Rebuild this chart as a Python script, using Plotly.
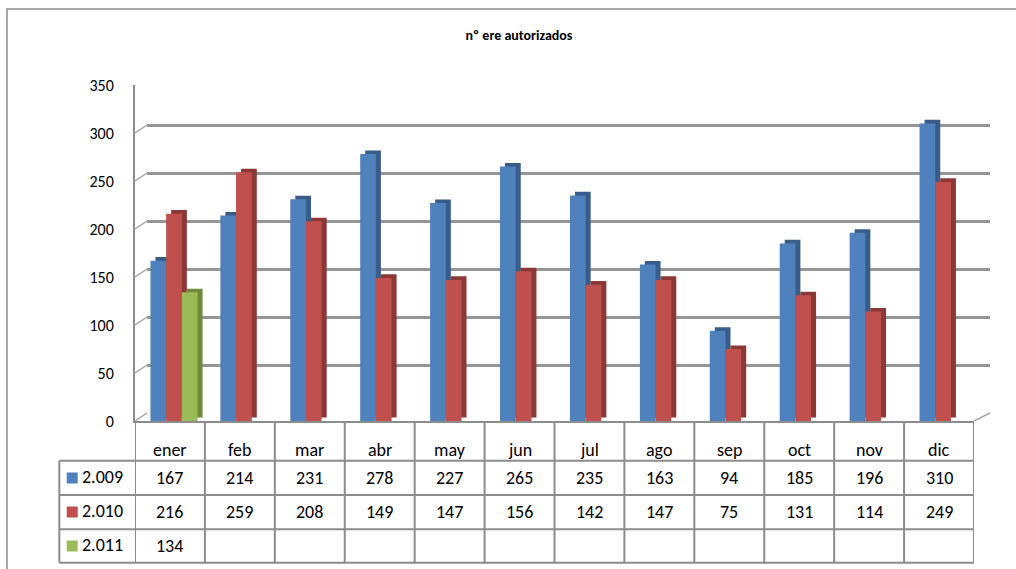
import plotly.graph_objects as go

# ---------------- data ----------------
months = ["ener", "feb", "mar", "abr", "may", "jun", "jul", "ago", "sep", "oct", "nov", "dic"]
series_names = ["2.009", "2.010", "2.011"]
v2009 = [167, 214, 231, 278, 227, 265, 235, 163, 94, 185, 196, 310]
v2010 = [216, 259, 208, 149, 147, 156, 142, 147, 75, 131, 114, 249]
v2011 = [134, None, None, None, None, None, None, None, None, None, None, None]
y_ticks = [0, 50, 100, 150, 200, 250, 300, 350]
title_text = "nº ere autorizados"

series_values = [v2009, v2010, v2011]
front_colors = ["#4F81BD", "#C0504D", "#9BBB59"]
side_colors = ["#385D8A", "#8C3836", "#6F8A3A"]

FONT = "Carlito, Calibri, Lato, sans-serif"
W, H = 1016, 569
L, R, T, B = 135, 26, 77, 148
PW, PH = W - L - R, H - T - B          # 855 x 344
FRONT_W = 839                           # front plot width (px)
FRONT_H = 336                           # front plot height (px)
DXL = 12                                # back wall left shift (px)
DY = PH - FRONT_H                       # back wall up shift (px)
px_per_unit = FRONT_H / 350.0
col_px = FRONT_W / 12.0

def py(Y):      # pixel y -> paper y
    return (H - B - Y) / PH

def pxx(X):     # pixel x -> paper x
    return (X - L) / PW

fig = go.Figure()

# invisible trace so the back-wall subplot exists
fig.add_trace(go.Scatter(x=[None], y=[None], xaxis="x", yaxis="y",
                         showlegend=False, hoverinfo="skip"))

bar_w = 15.7 / col_px
offsets = [-19.5 / col_px + i * bar_w for i in range(3)]
side_dx = 5.0 / col_px
side_dy = 3.6 / px_per_unit

# side / top faces (drawn first)
for i, vals in enumerate(series_values):
    fig.add_trace(go.Bar(
        x=months, y=vals, base=side_dy, offset=offsets[i] + side_dx, width=bar_w,
        marker=dict(color=side_colors[i], line=dict(width=0)),
        xaxis="x2", yaxis="y2", showlegend=False, hoverinfo="skip"))
# front faces
for i, vals in enumerate(series_values):
    fig.add_trace(go.Bar(
        x=months, y=vals, offset=offsets[i], width=bar_w, name=series_names[i],
        marker=dict(color=front_colors[i], line=dict(width=0)),
        xaxis="x2", yaxis="y2", showlegend=False))

grid_col = "#969696"
line_col = "#8c8c8c"

shapes = []
annotations = []

# left-wall diagonal ticks
for v in y_ticks:
    shapes.append(dict(type="line", xref="paper", yref="y2",
                       x0=0, y0=v, x1=DXL / PW, y1=v + DY / px_per_unit,
                       line=dict(color="#a6a6a6", width=1.5)))
# right floor diagonal
shapes.append(dict(type="line", xref="paper", yref="y2",
                   x0=FRONT_W / PW, y0=0, x1=1, y1=DY / px_per_unit,
                   line=dict(color="#a6a6a6", width=1.5)))

# ---------------- data table ----------------
row_lines = [460.7, 495.0, 529.3, 562.7]
legend_left = 59.3
for Y in row_lines:
    shapes.append(dict(type="line", xref="paper", yref="paper",
                       x0=pxx(legend_left), x1=FRONT_W / PW, y0=py(Y), y1=py(Y),
                       line=dict(color=line_col, width=2)))
for k in range(len(months) + 1):
    shapes.append(dict(type="line", xref="x2", yref="paper",
                       x0=k - 0.5, x1=k - 0.5, y0=py(421), y1=py(row_lines[-1]),
                       line=dict(color=line_col, width=2)))
shapes.append(dict(type="line", xref="paper", yref="paper",
                   x0=pxx(legend_left), x1=pxx(legend_left),
                   y0=py(row_lines[0]), y1=py(row_lines[-1]),
                   line=dict(color=line_col, width=2)))

# outer chart border
shapes.append(dict(type="rect", xref="paper", yref="paper",
                   x0=pxx(7), x1=pxx(W + 20), y0=py(9), y1=py(H + 20),
                   line=dict(color="#8c8c8c", width=1.5), fillcolor="rgba(0,0,0,0)"))

tfont = dict(family=FONT, size=18, color="#000000")
for k, m in enumerate(months):
    annotations.append(dict(xref="x2", yref="paper", x=k, y=py(450), text=m,
                            showarrow=False, font=tfont, xanchor="center", yanchor="middle"))
row_centers = [478, 512, 546]
for i, vals in enumerate(series_values):
    Yc = row_centers[i]
    for k, v in enumerate(vals):
        if v is not None:
            annotations.append(dict(xref="x2", yref="paper", x=k, y=py(Yc), text=str(v),
                                    showarrow=False, font=tfont,
                                    xanchor="center", yanchor="middle"))
    # legend key
    shapes.append(dict(type="rect", xref="paper", yref="paper",
                       x0=pxx(66.7), x1=pxx(77.7), y0=py(Yc - 5.5), y1=py(Yc + 5.5),
                       line=dict(width=0), fillcolor=front_colors[i]))
    annotations.append(dict(xref="paper", yref="paper", x=pxx(79.5), y=py(Yc - 1),
                            text=series_names[i], showarrow=False, font=tfont,
                            xanchor="left", yanchor="middle"))

fig.update_layout(
    width=W, height=H,
    margin=dict(l=L, r=R, t=T, b=B, pad=0),
    paper_bgcolor="white", plot_bgcolor="rgba(0,0,0,0)",
    barmode="overlay",
    showlegend=False,
    title=dict(text="<b>" + title_text + "</b>", xref="container", yref="container",
               x=519 / W, y=1 - 35 / H, xanchor="center", yanchor="middle",
               font=dict(family=FONT, size=14, color="#000000")),
    # back wall
    xaxis=dict(domain=[DXL / PW, 1], range=[-0.5, 11.5], anchor="y",
               visible=False, showgrid=False, zeroline=False),
    yaxis=dict(domain=[DY / PH, 1], range=[0, 350], anchor="x",
               tickvals=y_ticks, showticklabels=False, ticks="",
               showgrid=True, gridcolor=grid_col, gridwidth=3,
               zeroline=False, showline=False),
    # front (bars)
    xaxis2=dict(domain=[0, FRONT_W / PW], range=[-0.5, 11.5], anchor="y2",
                type="category", categoryorder="array", categoryarray=months,
                showticklabels=False, ticks="", showgrid=False, zeroline=False,
                showline=True, linecolor=line_col, linewidth=2),
    yaxis2=dict(domain=[0, FRONT_H / PH], range=[0, 350], anchor="x2",
                tickvals=y_ticks, ticks="", ticklabelstandoff=16,
                tickfont=dict(family=FONT, size=16, color="#000000"),
                showgrid=False, zeroline=False,
                showline=True, linecolor=line_col, linewidth=2),
    shapes=shapes,
    annotations=annotations,
)

fig.write_html("out.html",
               config={"displayModeBar": False},
               post_script="document.body.style.margin='0';document.body.style.padding='0';")
